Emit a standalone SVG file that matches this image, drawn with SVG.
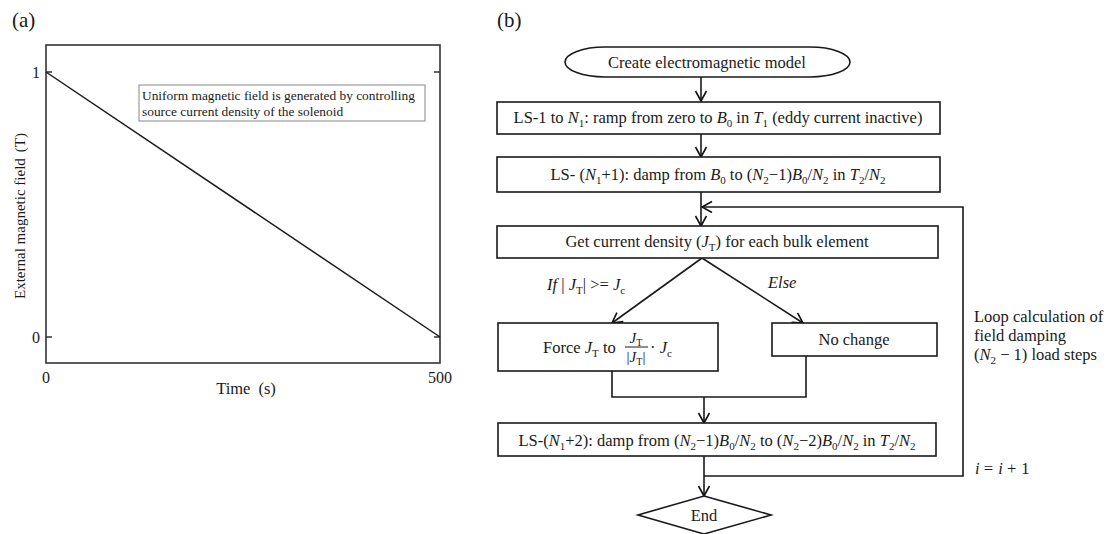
<svg xmlns="http://www.w3.org/2000/svg" width="1113" height="534" viewBox="0 0 1113 534">
<defs>
<marker id="ah" markerWidth="14" markerHeight="14" refX="11" refY="6" orient="auto" markerUnits="userSpaceOnUse">
<path d="M1,0.5 L11,6 L1,11.5" fill="none" stroke="#111" stroke-width="1.6"/>
</marker>
<style>
.t{font-family:"Liberation Serif","Times New Roman",serif;font-size:16.5px;fill:#1a1a1a}
.i{font-style:italic}
.s{font-size:11px}
.box{fill:#fff;stroke:#1a1a1a;stroke-width:1.6}
.ln{fill:none;stroke:#1a1a1a;stroke-width:1.6}
.ax{fill:none;stroke:#333;stroke-width:1.6}
</style>
</defs>
<rect width="1113" height="534" fill="#fff"/>

<g id="panel-a">
<text class="t" x="12" y="27" style="font-size:21px">(a)</text>
<rect class="ax" x="46" y="45" width="394" height="318"/>
<path class="ax" d="M46,72 H52 M440,72 H434 M46,337 H52 M440,337 H434"/>
<line x1="46" y1="72" x2="440" y2="337" stroke="#1a1a1a" stroke-width="1.5"/>
<text class="t" x="36" y="78" text-anchor="middle" style="font-size:16px">1</text>
<text class="t" x="36" y="343" text-anchor="middle" style="font-size:16px">0</text>
<text class="t" x="46" y="383" text-anchor="middle" style="font-size:16px">0</text>
<text class="t" x="440" y="383" text-anchor="middle" style="font-size:16px">500</text>
<text class="t" x="246" y="394" text-anchor="middle">Time<tspan dx="8">(s)</tspan></text>
<text class="t" transform="translate(25,216) rotate(-90)" text-anchor="middle" style="font-size:15px">External magnetic field<tspan dx="6">(T)</tspan></text>
<rect x="139" y="85" width="286" height="36" fill="#fff" stroke="#888" stroke-width="1"/>
<text class="t" x="142" y="100" style="font-size:13.4px">Uniform magnetic field is generated by controlling</text>
<text class="t" x="142" y="116" style="font-size:13.4px">source current density of the solenoid</text>
</g>

<g id="panel-b">
<text class="t" x="497" y="27" style="font-size:21px">(b)</text>

<g id="connectors">
<line class="ln" x1="701" y1="77" x2="701" y2="101" marker-end="url(#ah)"/>
<line class="ln" x1="701" y1="134" x2="701" y2="157" marker-end="url(#ah)"/>
<line class="ln" x1="701" y1="192" x2="701" y2="226" marker-end="url(#ah)"/>
<line class="ln" x1="702" y1="258" x2="612" y2="323" marker-end="url(#ah)"/>
<line class="ln" x1="702" y1="258" x2="803" y2="323" marker-end="url(#ah)"/>
<path class="ln" d="M612,371 V397 H806 V356"/>
<line class="ln" x1="704" y1="397" x2="704" y2="423" marker-end="url(#ah)"/>
<line class="ln" x1="704" y1="456" x2="704" y2="496" marker-end="url(#ah)"/>
<path class="ln" d="M704,476 H963 V207 H702" marker-end="url(#ah)"/>
</g>

<g id="n-create">
<rect class="box" x="565" y="47" width="285" height="30" rx="40" ry="15"/>
<text class="t" x="707" y="68" text-anchor="middle">Create electromagnetic model</text>
</g>

<g id="n-ls1">
<rect class="box" x="497" y="102" width="443" height="32"/>
<text class="t" x="718" y="123" text-anchor="middle">LS-1 to <tspan class="i">N</tspan><tspan class="s" dy="4">1</tspan><tspan dy="-4">: ramp from zero to </tspan><tspan class="i">B</tspan><tspan class="s" dy="4">0</tspan><tspan dy="-4"> in </tspan><tspan class="i">T</tspan><tspan class="s" dy="4">1</tspan><tspan dy="-4"> (eddy current inactive)</tspan></text>
</g>

<g id="n-ls2">
<rect class="box" x="497" y="157" width="443" height="35"/>
<text class="t" x="718" y="180" text-anchor="middle">LS- (<tspan class="i">N</tspan><tspan class="s" dy="4">1</tspan><tspan dy="-4">+1): damp from </tspan><tspan class="i">B</tspan><tspan class="s" dy="4">0</tspan><tspan dy="-4"> to (</tspan><tspan class="i">N</tspan><tspan class="s" dy="4">2</tspan><tspan dy="-4">−1)</tspan><tspan class="i">B</tspan><tspan class="s" dy="4">0</tspan><tspan dy="-4">/</tspan><tspan class="i">N</tspan><tspan class="s" dy="4">2</tspan><tspan dy="-4"> in </tspan><tspan class="i">T</tspan><tspan class="s" dy="4">2</tspan><tspan dy="-4">/</tspan><tspan class="i">N</tspan><tspan class="s" dy="4">2</tspan></text>
</g>

<g id="n-get">
<rect class="box" x="497" y="226" width="441" height="32"/>
<text class="t" x="717" y="247" text-anchor="middle">Get current density (<tspan class="i">J</tspan><tspan class="s" dy="4">T</tspan><tspan dy="-4">) for each bulk element</tspan></text>
</g>

<g id="l-if">
<text class="t" x="547" y="290"><tspan class="i">If</tspan> | <tspan class="i">J</tspan><tspan class="s" dy="4">T</tspan><tspan dy="-4">| &gt;= </tspan><tspan class="i">J</tspan><tspan class="s" dy="4">c</tspan></text>
</g>
<g id="l-else">
<text class="t i" x="768" y="288">Else</text>
</g>

<g id="n-force">
<rect class="box" x="498" y="323" width="220" height="48"/>
<text class="t" x="543" y="353">Force <tspan class="i">J</tspan><tspan class="s" dy="4">T</tspan><tspan dy="-4"> to</tspan></text>
<text class="t" x="636" y="343" text-anchor="middle" style="font-size:15px"><tspan class="i">J</tspan><tspan dy="3" style="font-size:10px">T</tspan></text>
<line x1="625" y1="347" x2="648" y2="347" stroke="#1a1a1a" stroke-width="1"/>
<text class="t" x="636" y="362" text-anchor="middle" style="font-size:15px">|<tspan class="i">J</tspan><tspan dy="3" style="font-size:10px">T</tspan><tspan dy="-3">|</tspan></text>
<text class="t" x="650" y="353">· <tspan class="i">J</tspan><tspan class="s" dy="4">c</tspan></text>
</g>

<g id="n-nochange">
<rect class="box" x="772" y="323" width="165" height="33"/>
<text class="t" x="854" y="345" text-anchor="middle">No change</text>
</g>

<g id="n-ls3">
<rect class="box" x="498" y="423" width="438" height="33"/>
<text class="t" x="717" y="446" text-anchor="middle">LS-(<tspan class="i">N</tspan><tspan class="s" dy="4">1</tspan><tspan dy="-4">+2): damp from (</tspan><tspan class="i">N</tspan><tspan class="s" dy="4">2</tspan><tspan dy="-4">−1)</tspan><tspan class="i">B</tspan><tspan class="s" dy="4">0</tspan><tspan dy="-4">/</tspan><tspan class="i">N</tspan><tspan class="s" dy="4">2</tspan><tspan dy="-4"> to (</tspan><tspan class="i">N</tspan><tspan class="s" dy="4">2</tspan><tspan dy="-4">−2)</tspan><tspan class="i">B</tspan><tspan class="s" dy="4">0</tspan><tspan dy="-4">/</tspan><tspan class="i">N</tspan><tspan class="s" dy="4">2</tspan><tspan dy="-4"> in </tspan><tspan class="i">T</tspan><tspan class="s" dy="4">2</tspan><tspan dy="-4">/</tspan><tspan class="i">N</tspan><tspan class="s" dy="4">2</tspan></text>
</g>

<g id="n-end">
<polygon class="box" points="704,496 771,515 704,534 638,515"/>
<text class="t" x="704" y="521" text-anchor="middle">End</text>
</g>

<g id="l-loop">
<text class="t" x="974" y="322">Loop calculation of</text>
<text class="t" x="974" y="341">field damping</text>
<text class="t" x="974" y="360">(<tspan class="i">N</tspan><tspan class="s" dy="4">2</tspan><tspan dy="-4"> − 1) load steps</tspan></text>
</g>
<g id="l-inc">
<text class="t" x="975" y="474"><tspan class="i">i</tspan> = <tspan class="i" dx="1">i</tspan> + <tspan dx="1">1</tspan></text>
</g>
</g>
</svg>
